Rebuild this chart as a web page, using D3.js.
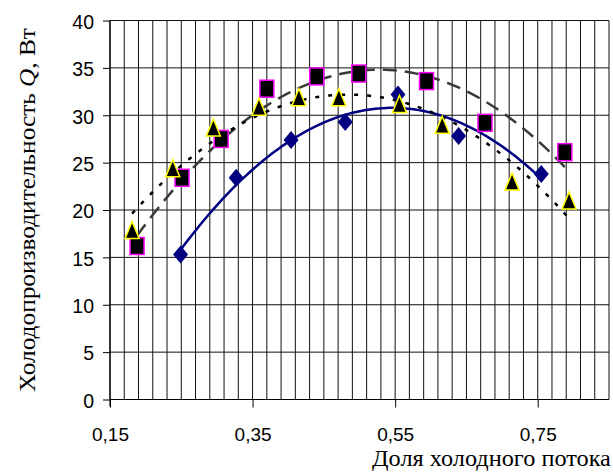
<!DOCTYPE html>
<html>
<head>
<meta charset="utf-8">
<script src="https://cdn.jsdelivr.net/npm/d3@7"></script>
<style>
  body { margin: 0; background: #fff; }
  svg { display: block; }
</style>
</head>
<body>
<svg id="chart" width="613" height="472"></svg>
<script>
// Cold-flow fraction vs. cooling capacity, three measurement series
const squareX   = [0.188, 0.251, 0.306, 0.370, 0.440, 0.499, 0.594, 0.676, 0.788];
const squareY   = [16.2, 23.4, 27.5, 32.8, 34.1, 34.4, 33.6, 29.2, 26.1];

const triangleX = [0.181, 0.238, 0.295, 0.359, 0.415, 0.471, 0.556, 0.616, 0.714, 0.794];
const triangleY = [17.9, 24.4, 28.7, 30.9, 31.9, 31.9, 31.2, 29.0, 23.0, 21.0];

const diamondX  = [0.249, 0.327, 0.404, 0.480, 0.554, 0.639, 0.755];
const diamondY  = [15.3, 23.4, 27.4, 29.3, 32.2, 27.8, 23.8];

const xTickValues = [0.15, 0.35, 0.55, 0.75];
const yTickValues = [0, 5, 10, 15, 20, 25, 30, 35, 40];

const yTitle = "Холодопроизводительность ";
const yTitleVar = "Q";
const yTitleUnit = ", Вт";
const xTitle = "Доля холодного потока";

const svg = d3.select("#chart");
const plot = { left: 110, right: 609, top: 20.5, bottom: 399.5 };

const x = d3.scaleLinear().domain([0.15, 0.85]).range([plot.left, plot.right]);
const y = d3.scaleLinear().domain([0, 40]).range([plot.bottom, plot.top]);

const ruFormat = d3.formatLocale({ decimal: ",", thousands: " ", grouping: [3], currency: ["", ""] }).format(".2f");

// grid: vertical every 0.02, horizontal every 5
const vGrid = d3.range(36).map(i => +(0.15 + i * 0.02).toFixed(2));
svg.append("g").selectAll("line").data(vGrid).join("line")
  .attr("x1", d => x(d)).attr("x2", d => x(d))
  .attr("y1", plot.top).attr("y2", plot.bottom)
  .attr("stroke", "#111").attr("stroke-width", 1);

svg.append("g").selectAll("line").data(yTickValues).join("line")
  .attr("x1", plot.left).attr("x2", plot.right)
  .attr("y1", d => y(d)).attr("y2", d => y(d))
  .attr("stroke", "#111").attr("stroke-width", 1);

const tickFont = "'Liberation Sans', Arial, sans-serif";

// axes
const yAxis = d3.axisLeft(y).tickValues(yTickValues).tickSize(7).tickPadding(9).tickFormat(d3.format("d"));
const gy = svg.append("g").attr("transform", `translate(${plot.left},0)`).call(yAxis);
gy.select(".domain").attr("stroke", "#000").attr("stroke-width", 1.2).attr("d", `M0,${plot.top}V${plot.bottom + 7}`);
gy.selectAll(".tick line").attr("stroke", "#000");
gy.selectAll(".tick text")
  .attr("font-family", tickFont)
  .attr("font-size", 19.5).attr("fill", "#000").attr("dy", "0.4em");

const xAxis = d3.axisBottom(x).tickValues(xTickValues).tickSize(8).tickPadding(0).tickFormat(ruFormat);
const gx = svg.append("g").attr("transform", `translate(0,${plot.bottom})`).call(xAxis);
gx.select(".domain").attr("stroke", "#000").attr("stroke-width", 1.2).attr("d", `M${plot.left},0H${plot.right}`);
gx.selectAll(".tick line").attr("stroke", "#000");
gx.selectAll(".tick text")
  .attr("font-family", tickFont)
  .attr("font-size", 19).attr("fill", "#000")
  .attr("y", 440.5 - plot.bottom).attr("dy", 0);

// least-squares quadratic trend
function quadFit(xs, ys) {
  const n = xs.length;
  let s = [0, 0, 0, 0, 0], t = [0, 0, 0];
  for (let i = 0; i < n; i++) {
    const xi = xs[i], yi = ys[i];
    for (let k = 0; k <= 4; k++) s[k] += Math.pow(xi, k);
    for (let k = 0; k <= 2; k++) t[k] += Math.pow(xi, k) * yi;
  }
  const A = [[s[0], s[1], s[2], t[0]], [s[1], s[2], s[3], t[1]], [s[2], s[3], s[4], t[2]]];
  for (let c = 0; c < 3; c++) {
    let p = c;
    for (let r = c + 1; r < 3; r++) if (Math.abs(A[r][c]) > Math.abs(A[p][c])) p = r;
    [A[c], A[p]] = [A[p], A[c]];
    for (let r = 0; r < 3; r++) {
      if (r === c) continue;
      const f = A[r][c] / A[c][c];
      for (let k = c; k < 4; k++) A[r][k] -= f * A[c][k];
    }
  }
  const a0 = A[0][3] / A[0][0], a1 = A[1][3] / A[1][1], a2 = A[2][3] / A[2][2];
  return v => a0 + a1 * v + a2 * v * v;
}

function trendPath(xs, ys) {
  const f = quadFit(xs, ys);
  const [lo, hi] = d3.extent(xs);
  const pts = d3.range(0, 101).map(i => { const v = lo + (hi - lo) * i / 100; return [v, f(v)]; });
  return d3.line().x(d => x(d[0])).y(d => y(d[1]))(pts);
}

svg.append("path").attr("d", trendPath(diamondX, diamondY))
  .attr("fill", "none").attr("stroke", "#000080").attr("stroke-width", 2.5);
svg.append("path").attr("d", trendPath(squareX, squareY))
  .attr("fill", "none").attr("stroke", "#3a3a3a").attr("stroke-width", 2.5)
  .attr("stroke-dasharray", "14,8");
svg.append("path").attr("d", trendPath(triangleX, triangleY))
  .attr("fill", "none").attr("stroke", "#000").attr("stroke-width", 2.5)
  .attr("stroke-dasharray", "4,9");

// markers
const zip = (a, b) => a.map((v, i) => [v, b[i]]);

svg.append("g").selectAll("path").data(zip(diamondX, diamondY)).join("path")
  .attr("transform", d => `translate(${x(d[0])},${y(d[1])})`)
  .attr("d", "M0,-9L7.5,0L0,9L-7.5,0Z")
  .attr("fill", "#000080");

svg.append("g").selectAll("rect").data(zip(squareX, squareY)).join("rect")
  .attr("x", d => x(d[0]) - 7).attr("y", d => y(d[1]) - 8.5)
  .attr("width", 14).attr("height", 17)
  .attr("fill", "#000").attr("stroke", "#ff00ff").attr("stroke-width", 1.5);

svg.append("g").selectAll("path").data(zip(triangleX, triangleY)).join("path")
  .attr("transform", d => `translate(${x(d[0])},${y(d[1])})`)
  .attr("d", "M0,-8.5L7,8.5L-7,8.5Z")
  .attr("fill", "#000").attr("stroke", "#ffff00").attr("stroke-width", 1.5)
  .attr("stroke-linejoin", "miter");

// axis titles
const serif = "'Liberation Serif', 'Times New Roman', serif";
const yt = svg.append("text")
  .attr("font-family", serif).attr("font-size", 24).attr("fill", "#000")
  .attr("text-anchor", "middle");
yt.append("tspan").text(yTitle);
yt.append("tspan").attr("font-style", "italic").text(yTitleVar);
yt.append("tspan").text(yTitleUnit);
{
  const w = yt.node().getComputedTextLength();
  const target = 364;
  yt.attr("transform", `translate(35,210) rotate(-90) scale(${target / w},1)`);
}

const xt = svg.append("text")
  .attr("font-family", serif).attr("font-size", 22.5).attr("fill", "#000")
  .text(xTitle);
{
  const w = xt.node().getComputedTextLength();
  const target = 239;
  xt.attr("transform", `translate(${372},465.5) scale(${target / w},1)`);
}
</script>
</body>
</html>
